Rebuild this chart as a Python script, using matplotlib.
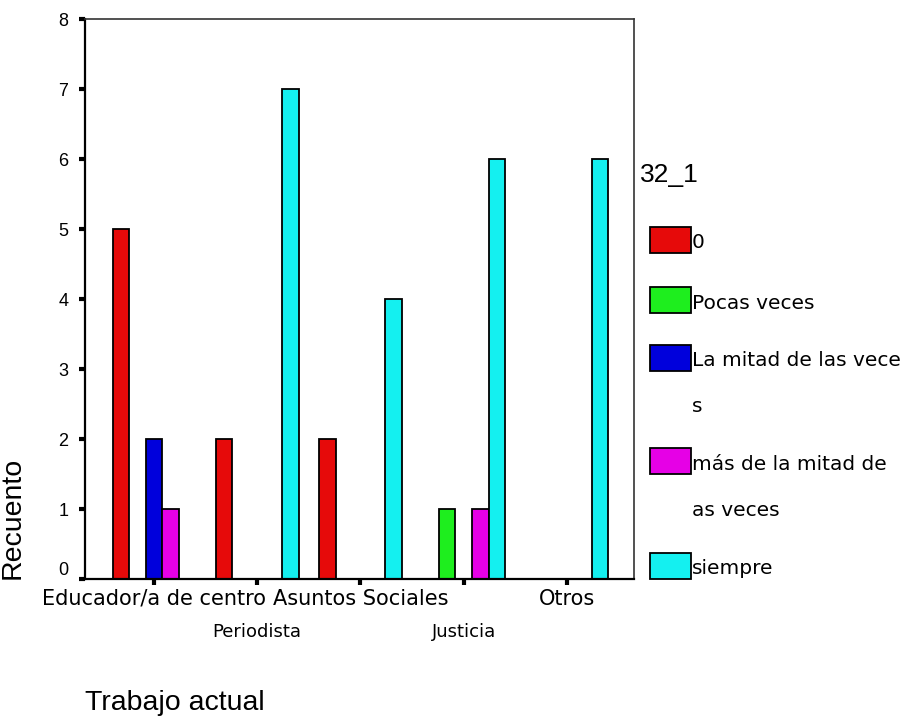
import matplotlib
matplotlib.use('Agg')
import matplotlib.pyplot as plt
from matplotlib.patches import Rectangle
import numpy as np

# datos (recuento por trabajo actual y respuesta 32_1)
categorias = ['Educador/a de centro', 'Periodista', 'Asuntos Sociales', 'Justicia', 'Otros']
series = ['0', 'Pocas veces', 'La mitad de las veces', 'más de la mitad de las veces', 'siempre']
v_0 = [5, 2, 2, 0, 0]
v_pocas = [0, 0, 0, 1, 0]
v_mitad = [2, 0, 0, 0, 0]
v_mas = [1, 0, 0, 1, 0]
v_siempre = [0, 7, 4, 6, 6]
valores = [v_0, v_pocas, v_mitad, v_mas, v_siempre]
colores = ['#E60A0A', '#1EEE1E', '#0000DC', '#E600E6', '#14F0F0']
# texto de la leyenda tal como se ve (cortado en el borde)
etiquetas_leyenda = [['0'], ['Pocas veces'], ['La mitad de las vece', 's'],
                     ['más de la mitad de', 'as veces'], ['siempre']]

fig = plt.figure(figsize=(9.11, 7.18), dpi=100)
ax = fig.add_axes([85 / 911, 1 - 579 / 718, 549 / 911, 560 / 718])

x = np.arange(len(categorias))
ancho = 0.16
for j, vals in enumerate(valores):
    ax.bar(x + (j - 2) * ancho, vals, width=ancho, color=colores[j],
           edgecolor='black', linewidth=1.3, zorder=2)

ax.set_xlim(-0.668, 4.649)
ax.set_ylim(0, 8)
ax.set_yticks(range(0, 9))
ax.set_yticklabels([str(i) for i in range(0, 9)], family='Liberation Sans', fontsize=13)
ax.get_yticklabels()[0].set_va('bottom')

ax.set_xticks(x)
ax.set_xticklabels(categorias, family='DejaVu Sans', fontsize=15)
ax.tick_params(axis='both', direction='out', length=4, width=3, color='black')
ax.tick_params(axis='y', pad=8)
ax.tick_params(axis='x', pad=3)
for i, tick in enumerate(ax.xaxis.get_major_ticks()):
    if i % 2 == 1:
        tick.set_pad(28)
        tick.label1.set_fontsize(13)

# bordes
for s in ['left', 'bottom']:
    ax.spines[s].set_linewidth(1.6)
    ax.spines[s].set_color('black')
for s in ['top', 'right']:
    ax.spines[s].set_linewidth(1.2)
    ax.spines[s].set_color('#333333')

ax.set_ylabel('Recuento', family='Liberation Sans', fontsize=20.5)
ax.yaxis.set_label_coords(-0.109, 0.11)
ax.set_xlabel('Trabajo actual', family='Liberation Sans', fontsize=20.5, ha='left', va='center')
ax.xaxis.set_label_coords(0.0, -0.221)

# leyenda a mano (estilo SPSS)
fig.text(640 / 911, 1 - 175 / 718, '32_1', family='Liberation Sans', fontsize=19, va='center', ha='left')
y_cajas = [240, 300, 358, 461, 566]
for j, lineas in enumerate(etiquetas_leyenda):
    yc = y_cajas[j]
    fig.add_artist(Rectangle((650 / 911, 1 - (yc + 13) / 718), 41 / 911, 26 / 718,
                             transform=fig.transFigure, facecolor=colores[j],
                             edgecolor='black', linewidth=1.3))
    for k, linea in enumerate(lineas):
        fig.text(692 / 911, 1 - (yc + 3 + 46 * k) / 718, linea, family='DejaVu Sans',
                 fontsize=14.5, va='center', ha='left')

fig.savefig('out.png', dpi=100)
